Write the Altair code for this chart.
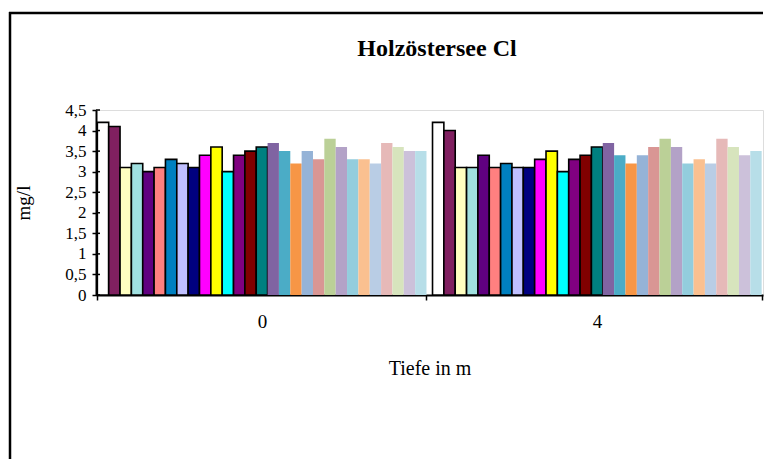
import altair as alt
import pandas as pd

# ---- data ----
tiefen = ["0", "4"]
reihen = [f"Reihe{i}" for i in range(1, 30)]
werte_0m = [4.2, 4.1, 3.1, 3.2, 3.0, 3.1, 3.3, 3.2, 3.1, 3.4, 3.6, 3.0, 3.4, 3.5, 3.6,
            3.7, 3.5, 3.2, 3.5, 3.3, 3.8, 3.6, 3.3, 3.3, 3.2, 3.7, 3.6, 3.5, 3.5]
werte_4m = [4.2, 4.0, 3.1, 3.1, 3.4, 3.1, 3.2, 3.1, 3.1, 3.3, 3.5, 3.0, 3.3, 3.4, 3.6,
            3.7, 3.4, 3.2, 3.4, 3.6, 3.8, 3.6, 3.2, 3.3, 3.2, 3.8, 3.6, 3.4, 3.5]
y_ticks = [0, 0.5, 1, 1.5, 2, 2.5, 3, 3.5, 4, 4.5]
titel = "Holzöstersee Cl"

# ---- styles ----
farben = ["#FFFFFF", "#802060", "#FFFFC0", "#A0E0E0", "#600080", "#FF8080", "#0080C0",
          "#C0C0FF", "#000080", "#FF00FF", "#FFFF00", "#00FFFF", "#800080", "#800000",
          "#008080",
          "#8064A2", "#4BACC6", "#F79646", "#95B3D7", "#D99694", "#BBD097", "#B3A2C7",
          "#93CDDD", "#FAC090", "#B9CDE5", "#E6B9B8", "#D7E4BD", "#CCC1DA", "#B7DEE8"]
mit_rahmen = reihen[:15]

rows = []
for t, werte in zip(tiefen, [werte_0m, werte_4m]):
    for r, v in zip(reihen, werte):
        rows.append({"Tiefe": t, "Reihe": r, "Wert": v})
df = pd.DataFrame(rows)

FONT = "Liberation Serif"

y_axis = alt.Axis(title="mg/l", values=y_ticks, grid=False,
                  labelOverlap=False, labelBound=False, labelFlush=False,
                  format=".1~f",
                  tickSize=4, tickWidth=1.5, tickColor="black",
                  domainColor="black", domainWidth=2,
                  labelFont=FONT, labelFontSize=17, labelColor="black",
                  labelPadding=6, labelBaseline="middle",
                  titleFont=FONT, titleFontSize=19, titleFontWeight="normal",
                  titleColor="black", titlePadding=31)
y_scale = alt.Scale(domain=[0, 4.5], nice=False, zero=True)

bars = alt.Chart(df).mark_bar(clip=False).encode(
    x=alt.X("Tiefe:N", sort=tiefen,
            scale=alt.Scale(paddingInner=0.018, paddingOuter=0.004),
            axis=alt.Axis(title="Tiefe in m", labelAngle=0, tickBand="extent",
                          tickSize=5, tickWidth=1.5, tickColor="black",
                          domainColor="black", domainWidth=2,
                          labelFont=FONT, labelFontSize=19, labelColor="black",
                          labelPadding=12,
                          titleFont=FONT, titleFontSize=20, titleFontWeight="normal",
                          titleColor="black", titlePadding=27)),
    xOffset=alt.XOffset("Reihe:N", sort=reihen,
                        scale=alt.Scale(domain=reihen, paddingInner=0, paddingOuter=0)),
    y=alt.Y("Wert:Q", scale=y_scale, axis=y_axis),
    color=alt.Color("Reihe:N", scale=alt.Scale(domain=reihen, range=farben), legend=None),
    stroke=alt.value("black"),
    strokeWidth=alt.condition(alt.FieldOneOfPredicate(field="Reihe", oneOf=mit_rahmen),
                              alt.value(1.6), alt.value(0)),
)

tick_df = pd.DataFrame({"Wert": y_ticks})
inner_ticks = alt.Chart(tick_df).mark_rule(color="black", strokeWidth=1.5).encode(
    y=alt.Y("Wert:Q", scale=y_scale, axis=y_axis),
    x=alt.value(0),
    x2=alt.value(4),
)

title_mark = alt.Chart(pd.DataFrame({"titel": [titel]})).mark_text(
    font=FONT, fontSize=24, fontWeight="bold", color="black",
    align="center", baseline="alphabetic"
).encode(text="titel:N", x=alt.value(341), y=alt.value(-54))

one = pd.DataFrame({"a": [0]})
frame_left = alt.Chart(one).mark_rule(color="black", strokeWidth=2.5, clip=False).encode(
    x=alt.value(-86), y=alt.value(-98), y2=alt.value(349))
frame_top = alt.Chart(one).mark_rule(color="black", strokeWidth=2.5, clip=False).encode(
    x=alt.value(-87), x2=alt.value(667), y=alt.value(-97))

chart = alt.layer(bars, inner_ticks, title_mark, frame_left, frame_top).properties(
    width=667, height=185,
    autosize=alt.AutoSizeParams(type="none"),
    padding={"left": 88, "top": 102, "right": 1, "bottom": 165},
).configure_view(stroke=None).configure(background="white")

chart.save("out.html", embed_options={
    "renderer": "svg", "actions": False,
    "formatLocale": {"decimal": ",", "thousands": ".", "grouping": [3],
                     "currency": ["", " €"]},
})
